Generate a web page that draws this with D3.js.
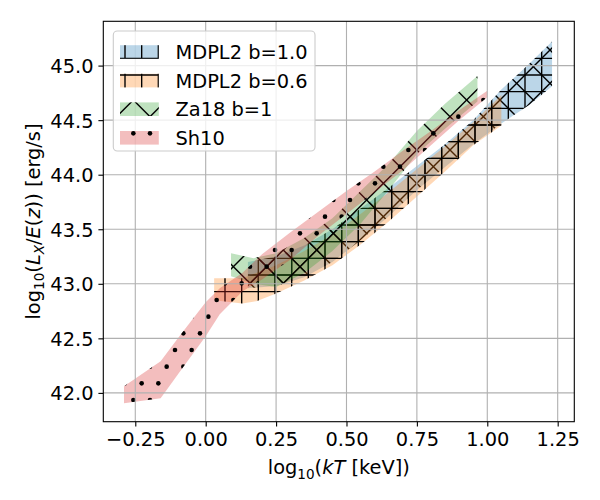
<!DOCTYPE html>
<html><head><meta charset="utf-8">
<script src="https://cdn.jsdelivr.net/npm/d3@7"></script>
<style>
body{margin:0;background:#fff}
text{font-family:"DejaVu Sans",sans-serif;fill:#000}
</style>
</head><body>
<svg id="chart" width="600" height="500"></svg>
<script>
// ---------------- data ----------------
const seriesNames = ["MDPL2 b=1.0", "MDPL2 b=0.6", "Za18 b=1", "Sh10"];
const seriesColors = ["#1f77b4", "#ff7f0e", "#2ca02c", "#d62728"];

const mdplB10X  = [0.15, 0.25, 0.35, 0.45, 0.55, 0.65, 0.75, 0.85, 0.95, 1.05, 1.15, 1.23];
const mdplB10Hi = [43.20, 43.25, 43.35, 43.50, 43.69, 43.88, 44.08, 44.28, 44.50, 44.78, 45.02, 45.22];
const mdplB10Lo = [42.96, 42.98, 43.06, 43.20, 43.40, 43.62, 43.86, 44.07, 44.28, 44.47, 44.64, 44.81];

const mdplB06X  = [0.03, 0.13, 0.18, 0.25, 0.35, 0.45, 0.55, 0.65, 0.75, 0.85, 0.95, 1.05];
const mdplB06Hi = [43.05, 43.05, 43.10, 43.17, 43.30, 43.45, 43.64, 43.84, 44.05, 44.26, 44.48, 44.73];
const mdplB06Lo = [42.85, 42.82, 42.84, 42.91, 43.03, 43.17, 43.36, 43.57, 43.80, 44.03, 44.27, 44.45];

const za18X  = [0.09, 0.17, 0.25, 0.35, 0.45, 0.55, 0.65, 0.75, 0.85, 0.965];
const za18Hi = [43.28, 43.235, 43.28, 43.42, 43.60, 43.85, 44.10, 44.40, 44.65, 44.905];
const za18Lo = [43.07, 43.00, 42.97, 43.10, 43.30, 43.55, 43.86, 44.19, 44.42, 44.67];

const sh10X  = [-0.29, -0.16, -0.09, 0.00, 0.05, 0.13, 0.20, 0.30, 0.40, 0.50, 0.60, 0.70, 0.80, 0.90, 1.00];
const sh10Hi = [42.06, 42.29, 42.53, 42.83, 42.96, 43.10, 43.27, 43.47, 43.66, 43.85, 44.03, 44.22, 44.40, 44.59, 44.77];
const sh10Lo = [41.905, 41.95, 42.20, 42.52, 42.72, 42.93, 43.04, 43.22, 43.44, 43.64, 43.84, 44.04, 44.27, 44.50, 44.71];

const xTicks = [-0.25, 0.00, 0.25, 0.50, 0.75, 1.00, 1.25];
const yTicks = [42.0, 42.5, 43.0, 43.5, 44.0, 44.5, 45.0];
const xDomain = [-0.3636, 1.309];
const yDomain = [41.736, 45.406];

// ---------------- layout ----------------
const W = 600, H = 500;
const L = 103.3, R = 574.3, T = 21.3, B = 421.7;
const FS = 19.4;
const svg = d3.select("#chart");
const x = d3.scaleLinear().domain(xDomain).range([L, R]);
const y = d3.scaleLinear().domain(yDomain).range([B, T]);

const defs = svg.append("defs");
defs.append("clipPath").attr("id", "axclip").append("rect")
  .attr("x", L).attr("y", T).attr("width", R - L).attr("height", B - T);

// hatch patterns (matplotlib style: 100px tiles, density 6)
const step = 100 / 6;
const HW = 1.39;
function makePattern(id, plus, cross, dots) {
  const p = defs.append("pattern").attr("id", id)
    .attr("patternUnits", "userSpaceOnUse").attr("x", 0).attr("y", 0)
    .attr("width", 100).attr("height", 100);
  const g = p.append("g").attr("stroke", "#000").attr("stroke-width", HW).attr("fill", "none");
  if (plus) {
    for (let k = 0; k < 6; k++) {
      const v = step / 2 + k * step;
      g.append("line").attr("x1", v).attr("x2", v).attr("y1", -1).attr("y2", 101);
      g.append("line").attr("y1", v).attr("y2", v).attr("x1", -1).attr("x2", 101);
    }
  }
  if (cross) {
    for (let k = 0; k <= 6; k++) {
      const c = -100 + k * 100 / 3;
      g.append("line").attr("x1", -10).attr("y1", -10 + c).attr("x2", 110).attr("y2", 110 + c);
      const c2 = k * 100 / 3;
      g.append("line").attr("x1", -10).attr("y1", c2 + 10).attr("x2", 110).attr("y2", c2 - 110);
    }
  }
  if (dots) {
    for (let r = 0; r <= 6; r++) {
      const cols = (r % 2 === 0) ? d3.range(7).map(c => c * step) : d3.range(6).map(c => step / 2 + c * step);
      cols.forEach(cx => p.append("circle").attr("cx", cx).attr("cy", r * step).attr("r", 2.3).attr("fill", "#000"));
    }
  }
}
makePattern("hPlusX", true, true, false);
makePattern("hPlus", true, false, false);
makePattern("hX", false, true, false);
makePattern("hDots", false, false, true);

const bands = [
  {name: seriesNames[0], color: seriesColors[0], xs: mdplB10X, lo: mdplB10Lo, hi: mdplB10Hi, hatch: "hPlusX", legHatch: "hPlus"},
  {name: seriesNames[1], color: seriesColors[1], xs: mdplB06X, lo: mdplB06Lo, hi: mdplB06Hi, hatch: "hPlus", legHatch: "hPlus"},
  {name: seriesNames[2], color: seriesColors[2], xs: za18X, lo: za18Lo, hi: za18Hi, hatch: "hX", legHatch: "hX"},
  {name: seriesNames[3], color: seriesColors[3], xs: sh10X, lo: sh10Lo, hi: sh10Hi, hatch: "hDots", legHatch: "hDots"}
];

const area = d3.area().x(d => x(d.x)).y0(d => y(d.lo)).y1(d => y(d.hi));
const plot = svg.append("g").attr("clip-path", "url(#axclip)");
bands.forEach(b => {
  const pts = b.xs.map((v, i) => ({x: v, lo: b.lo[i], hi: b.hi[i]}));
  const dpath = area(pts);
  plot.append("path").attr("d", dpath).attr("fill", b.color).attr("fill-opacity", 0.3);
  plot.append("path").attr("d", dpath).attr("fill", `url(#${b.hatch})`);
});

// grid (above collections, as matplotlib default)
const grid = svg.append("g").attr("stroke", "#b0b0b0").attr("stroke-width", 1.1);
xTicks.forEach(t => grid.append("line").attr("x1", x(t)).attr("x2", x(t)).attr("y1", T).attr("y2", B));
yTicks.forEach(t => grid.append("line").attr("y1", y(t)).attr("y2", y(t)).attr("x1", L).attr("x2", R));

// axes via d3
const fmtX = v => (v < 0 ? "\u2212" : "") + Math.abs(v).toFixed(2);
const fmtY = v => v.toFixed(1);
const xAxis = svg.append("g").attr("transform", `translate(0,${B})`)
  .call(d3.axisBottom(x).tickValues(xTicks).tickFormat(fmtX).tickSize(4.9).tickPadding(4.9));
const yAxis = svg.append("g").attr("transform", `translate(${L},0)`)
  .call(d3.axisLeft(y).tickValues(yTicks).tickFormat(fmtY).tickSize(4.9).tickPadding(4.9));
[xAxis, yAxis].forEach(a => {
  a.select(".domain").remove();
  a.selectAll(".tick line").attr("stroke", "#000").attr("stroke-width", 1.1);
  a.selectAll(".tick text").attr("font-size", FS).attr("font-family", "DejaVu Sans");
});
xAxis.selectAll(".tick text").attr("dy", "0.76em");
yAxis.selectAll(".tick text").attr("dy", "0.36em");

svg.append("rect").attr("x", L).attr("y", T).attr("width", R - L).attr("height", B - T)
  .attr("fill", "none").attr("stroke", "#000").attr("stroke-width", 1.1);

// axis labels
function addParts(t, parts) {
  parts.forEach(p => {
    const s = t.append("tspan").text(p.t);
    if (p.i) s.attr("font-style", "italic");
    if (p.sub) s.attr("font-size", FS * 0.7).attr("dy", 4.5);
    if (p.back) s.attr("dy", -4.5);
  });
}
const xl = svg.append("text").attr("x", (L + R) / 2).attr("y", 474).attr("text-anchor", "middle").attr("font-size", FS);
addParts(xl, [{t: "log"}, {t: "10", sub: true}, {t: "(", back: true}, {t: "kT", i: true}, {t: " [keV])"}]);

const yl = svg.append("text").attr("transform", `translate(39.5,${(T + B) / 2}) rotate(-90)`)
  .attr("text-anchor", "middle").attr("font-size", FS);
addParts(yl, [{t: "log"}, {t: "10", sub: true}, {t: "(", back: true}, {t: "L", i: true}, {t: "X", i: true, sub: true},
  {t: "/", back: true}, {t: "E", i: true}, {t: "("}, {t: "z", i: true}, {t: ")) [erg/s]"}]);

// legend
const leg = svg.append("g");
leg.append("rect").attr("x", 113.3).attr("y", 31).attr("width", 201.7).attr("height", 120)
  .attr("rx", 4).attr("ry", 4).attr("fill", "#fff").attr("fill-opacity", 0.8)
  .attr("stroke", "#cccccc").attr("stroke-width", 1.1);
bands.forEach((b, i) => {
  const cy = 52 + i * 28.6;
  leg.append("rect").attr("x", 120).attr("y", cy - 6.8).attr("width", 38.8).attr("height", 13.6)
    .attr("fill", b.color).attr("fill-opacity", 0.3);
  leg.append("rect").attr("x", 120).attr("y", cy - 6.8).attr("width", 38.8).attr("height", 13.6)
    .attr("fill", `url(#${b.legHatch})`);
  leg.append("text").attr("x", 175.5).attr("y", cy + 7).attr("font-size", FS).text(b.name);
});
</script>
</body></html>
